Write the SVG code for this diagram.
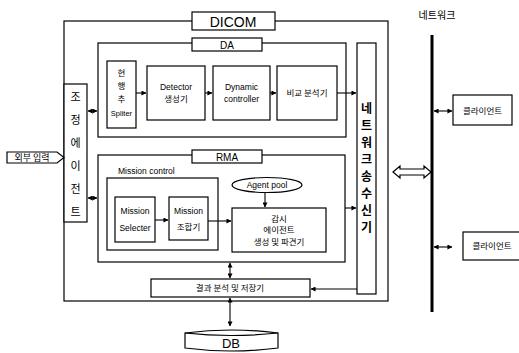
<svg xmlns="http://www.w3.org/2000/svg" width="519" height="353" viewBox="0 0 519 353">
<defs>
<marker id="ah" viewBox="0 0 6 6" refX="5.5" refY="3" markerWidth="5" markerHeight="5" orient="auto-start-reverse" markerUnits="userSpaceOnUse">
<path d="M0,0 L6,3 L0,6 z" fill="#000"/>
</marker>
</defs>
<style>
.b{fill:#fff;stroke:#000;stroke-width:1.2}
.bn{fill:none;stroke:#000;stroke-width:1.2}
.c{fill:none;stroke:#000;stroke-width:1.1}
.t{font-family:"Liberation Sans","Noto Sans CJK KR",sans-serif;font-size:8.5px;fill:#000;text-anchor:middle}
.k{font-family:"Noto Sans CJK KR","Liberation Sans",sans-serif;font-size:8.5px;fill:#000;text-anchor:middle}
</style>
<rect width="519" height="353" fill="#fff"/>

<g id="dicom">
<rect class="bn" x="64" y="21" width="324" height="280"/>
<rect class="b" x="192" y="12" width="83" height="18"/>
<text class="t" x="233" y="26.5" style="font-size:14px">DICOM</text>
</g>

<g id="da">
<rect class="bn" x="98" y="43" width="248" height="94"/>
<rect class="b" x="192" y="38" width="70" height="13"/>
<text class="t" x="227" y="48.5" style="font-size:10px">DA</text>
</g>

<g id="splitter">
<rect class="b" x="107" y="61" width="29" height="67"/>
<text class="k" x="121.5" y="76">현</text>
<text class="k" x="121.5" y="89">행</text>
<text class="k" x="121.5" y="102">추</text>
<text class="t" x="121.5" y="116" style="font-size:7.5px">Spliter</text>
</g>

<g id="detector">
<rect class="b" x="147" y="66" width="58" height="54"/>
<text class="t" x="176" y="90">Detector</text>
<text class="k" x="176" y="102">생성기</text>
</g>

<g id="dynamic">
<rect class="b" x="213" y="66" width="57" height="54"/>
<text class="t" x="241.5" y="90">Dynamic</text>
<text class="t" x="241.5" y="102">controller</text>
</g>

<g id="compare">
<rect class="b" x="277" y="66" width="60" height="54"/>
<text class="k" x="307" y="96">비교 분석기</text>
</g>

<g id="transceiver">
<rect class="b" x="357" y="43" width="19" height="251"/>
<g class="k" style="font-size:12px;font-weight:bold">
<text x="366.5" y="113">네</text>
<text x="366.5" y="130">트</text>
<text x="366.5" y="147">워</text>
<text x="366.5" y="164">크</text>
<text x="366.5" y="181">송</text>
<text x="366.5" y="198">수</text>
<text x="366.5" y="215">신</text>
<text x="366.5" y="232">기</text>
</g>
</g>

<g id="coord">
<rect class="b" x="64" y="84" width="23" height="138"/>
<g class="k" style="font-size:11px">
<text x="75.5" y="101">조</text>
<text x="75.5" y="124">정</text>
<text x="75.5" y="147">에</text>
<text x="75.5" y="170">이</text>
<text x="75.5" y="193">전</text>
<text x="75.5" y="216">트</text>
</g>
</g>

<g id="external">
<path class="b" d="M7,152 H57 L64,157.5 L57,163 H7 Z"/>
<text class="k" x="32" y="161" style="font-size:9px">외부 입력</text>
</g>

<g id="rma">
<rect class="bn" x="98" y="155" width="247" height="107"/>
<rect class="b" x="192" y="150" width="70" height="13"/>
<text class="t" x="227" y="160.5" style="font-size:10px">RMA</text>
<text class="t" x="118" y="174" style="text-anchor:start">Mission control</text>
</g>

<g id="missioncontrol">
<rect class="bn" x="107" y="178" width="111" height="72"/>
</g>

<g id="selecter">
<rect class="b" x="115" y="197" width="40" height="45"/>
<text class="t" x="135" y="214">Mission</text>
<text class="t" x="135" y="231">Selecter</text>
</g>

<g id="combiner">
<rect class="b" x="169" y="197" width="39" height="43"/>
<text class="t" x="188.5" y="214">Mission</text>
<text class="k" x="188.5" y="230">조합기</text>
</g>

<g id="agentpool">
<ellipse class="b" cx="267" cy="185" rx="35" ry="7.5"/>
<text class="t" x="267" y="188">Agent pool</text>
</g>

<g id="monitor">
<rect class="b" x="232" y="208" width="94" height="44"/>
<text class="k" x="279" y="222">감시</text>
<text class="k" x="279" y="233">에이전트</text>
<text class="k" x="279" y="245">생성 및 파견기</text>
</g>

<g id="result">
<rect class="b" x="151" y="279" width="159" height="18"/>
<text class="k" x="230" y="291">결과 분석 및 저장기</text>
</g>

<g id="db">
<path class="b" d="M185,333 Q231,327 278,333 V348 Q231,354 185,348 Z"/>
<path class="bn" d="M185,333 Q231,338 278,333"/>
<text class="t" x="231" y="348" style="font-size:13px">DB</text>
</g>

<g id="network">
<line x1="432" y1="35" x2="432" y2="312" stroke="#000" stroke-width="3"/>
<text class="k" x="437" y="19" style="font-size:10px">네트워크</text>
</g>

<g id="client1">
<rect class="b" x="453" y="95" width="59" height="30"/>
<text class="k" x="482.5" y="113.5">클라이언트</text>
</g>

<g id="client2">
<rect class="b" x="463" y="232" width="60" height="28"/>
<text class="k" x="492" y="249">클라이언트</text>
</g>

<g id="connectors">
<line class="c" x1="88" y1="111" x2="97" y2="111" marker-start="url(#ah)" marker-end="url(#ah)"/>
<line class="c" x1="88" y1="198" x2="97" y2="198" marker-start="url(#ah)" marker-end="url(#ah)"/>
<line class="c" x1="136" y1="93" x2="146" y2="93" marker-end="url(#ah)"/>
<line class="c" x1="205" y1="93" x2="212" y2="93" marker-end="url(#ah)"/>
<line class="c" x1="270" y1="93" x2="276" y2="93" marker-end="url(#ah)"/>
<line class="c" x1="337" y1="93" x2="356" y2="93" marker-end="url(#ah)"/>
<line class="c" x1="345" y1="208" x2="356" y2="208" marker-end="url(#ah)"/>
<line class="c" x1="155" y1="220" x2="168" y2="220" marker-end="url(#ah)"/>
<line class="c" x1="208" y1="221" x2="231" y2="221" marker-end="url(#ah)"/>
<line class="c" x1="265" y1="193" x2="265" y2="207" marker-end="url(#ah)"/>
<line class="c" x1="357" y1="289" x2="311" y2="289" marker-end="url(#ah)"/>
<line class="c" x1="230" y1="263" x2="230" y2="278" marker-start="url(#ah)" marker-end="url(#ah)"/>
<line class="c" x1="230" y1="298" x2="230" y2="326" marker-start="url(#ah)" marker-end="url(#ah)"/>
<line class="c" x1="434" y1="111" x2="452" y2="111" marker-start="url(#ah)" marker-end="url(#ah)"/>
<line class="c" x1="434" y1="247" x2="452" y2="247" marker-start="url(#ah)" marker-end="url(#ah)"/>
<path class="b" d="M393,172 L400,166 V169 H424 V166 L431,172 L424,178 V175 H400 V178 Z"/>
</g>
</svg>
